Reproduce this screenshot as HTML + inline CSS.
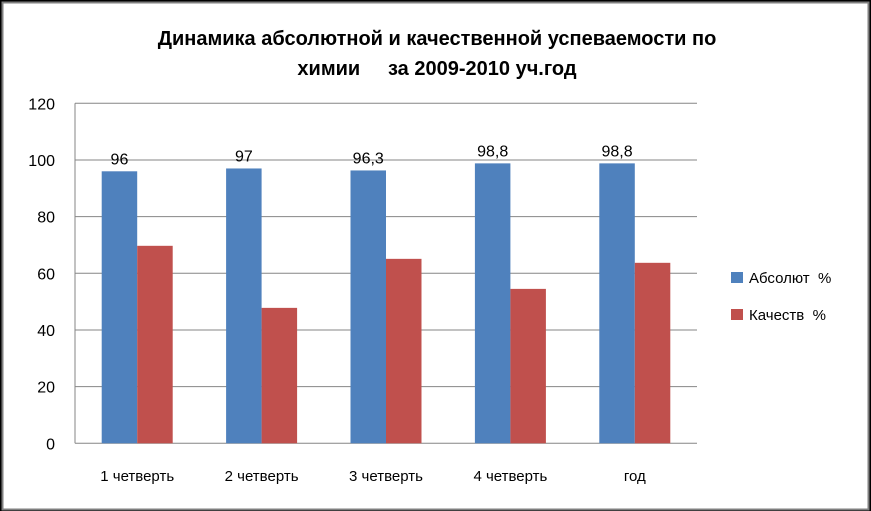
<!DOCTYPE html>
<html><head><meta charset="utf-8"><style>
html,body{margin:0;padding:0;background:#000;}
svg{display:block;font-family:"Liberation Sans","DejaVu Sans",sans-serif;}
</style></head><body>
<svg width="871" height="511">
<rect x="2.5" y="2.5" width="866" height="507" fill="#fff" stroke="#7f7f7f" stroke-width="2"/>
<text x="437" y="45" text-anchor="middle" font-size="20" font-weight="bold">Динамика абсолютной и качественной успеваемости по</text>
<text x="437" y="75" text-anchor="middle" font-size="20" font-weight="bold" xml:space="preserve">химии     за 2009-2010 уч.год</text>
<g id="plot"></g>
<g>
<rect x="731" y="272" width="12" height="11" fill="#4f81bd"/>
<text x="749" y="283" font-size="15" xml:space="preserve">Абсолют  %</text>
<rect x="731" y="309" width="12" height="11" fill="#c0504d"/>
<text x="749" y="320" font-size="15" xml:space="preserve">Качеств  %</text>
</g>
</svg>
<script>
const categories=["1 четверть","2 четверть","3 четверть","4 четверть","год"];
const absolute=[96,97,96.3,98.8,98.8];
const absoluteLabels=["96","97","96,3","98,8","98,8"];
const quality=[69.7,47.8,65.1,54.5,63.7];
const yTicks=[0,20,40,60,80,100,120];
const NS="http://www.w3.org/2000/svg";
const g=document.getElementById('plot');
const L=75,R=697,T=103.3,B=443.3,ymax=120;
const y=v=>B-(v/ymax)*(B-T);
const cw=(R-L)/categories.length;
const bw=35.5;
function mk(t,a){const e=document.createElementNS(NS,t);for(const k in a)e.setAttribute(k,a[k]);g.appendChild(e);return e;}
yTicks.forEach(t=>{
  const l=mk('line',{x1:L,x2:R,y1:y(t),y2:y(t),stroke:t===0?'#868686':'#868686','stroke-width':1});
  
  
  const tx=mk('text',{x:55,y:y(t)+6,'text-anchor':'end','font-size':16});
  tx.textContent=t;
  
  
});
const ax=mk('line',{x1:L,x2:L,y1:T,y2:B,stroke:'#868686'});


categories.forEach((c,i)=>{
  const cx=L+cw*(i+0.5);
  const b=mk('rect',{x:cx-bw,y:y(absolute[i]),width:bw,height:B-y(absolute[i]),fill:'#4f81bd'});
  
  
  const r=mk('rect',{x:cx,y:y(quality[i]),width:bw,height:B-y(quality[i]),fill:'#c0504d'});
  
  
  const lb=mk('text',{x:cx-bw/2,y:y(absolute[i])-7,'text-anchor':'middle','font-size':16});
  lb.textContent=absoluteLabels[i];
  
  
  const xl=mk('text',{x:cx,y:481,'text-anchor':'middle','font-size':15});
  xl.textContent=c;
  
  
});
</script>
</body></html>
